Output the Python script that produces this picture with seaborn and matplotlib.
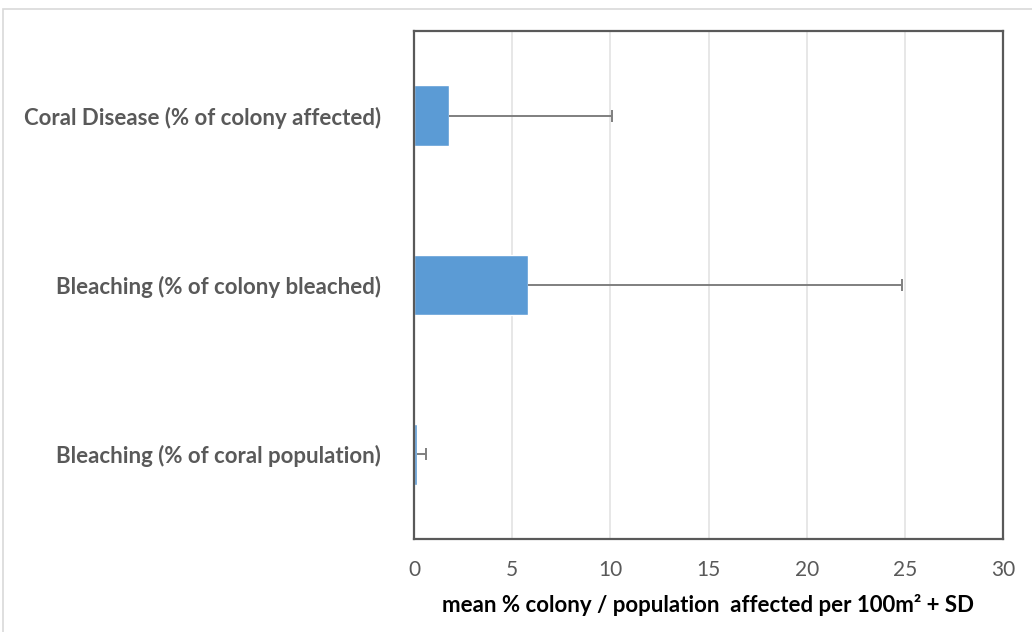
import matplotlib.pyplot as plt
import numpy as np
import pandas as pd
import seaborn as sns

categories = [
    "Coral Disease (% of colony affected)",
    "Bleaching (% of colony bleached)",
    "Bleaching (% of coral population)",
]
means = [1.78, 5.8, 0.17]
sds = [8.3, 19.05, 0.44]
x_ticks = [0, 5, 10, 15, 20, 25, 30]

df = pd.DataFrame({"category": categories, "mean": means, "sd": sds})

sns.set_theme(style="white")
plt.rcParams["font.family"] = ["Lato", "DejaVu Sans"]

fig = plt.figure(figsize=(10.32, 6.32), dpi=100)
ax = fig.add_axes([414 / 1032, 1 - 539 / 632, 589 / 1032, 508 / 632])

sns.barplot(
    data=df,
    x="mean",
    y="category",
    orient="h",
    color="#5b9bd5",
    saturation=1,
    width=0.36,
    errorbar=None,
    ax=ax,
)

# one-sided (+SD) error bars
eb = ax.errorbar(
    df["mean"],
    np.arange(len(df)),
    xerr=[np.zeros(len(df)), df["sd"]],
    fmt="none",
    ecolor="#7f7f7f",
    elinewidth=1.4,
    capsize=4,
    capthick=1.4,
)
# drop the cap that sits on the bar end
eb.lines[1][0].remove()

ax.set_xlim(0, 30)
ax.set_ylim(len(df) - 0.5, -0.5)
ax.set_xticks(x_ticks)
ax.grid(axis="x", color="#e3e3e3", linewidth=1.2)
ax.set_axisbelow(True)

for spine in ax.spines.values():
    spine.set_color("#595959")
    spine.set_linewidth(1.6)

ax.tick_params(axis="x", labelsize=15, labelcolor="#595959", length=0, pad=15)
ax.tick_params(axis="y", labelsize=16, labelcolor="#595959", length=0, pad=24)
for lbl in ax.get_yticklabels():
    lbl.set_fontweight("bold")

ax.set_ylabel("")
ax.set_xlabel(
    "mean % colony / population  affected per 100m² + SD",
    fontsize=16,
    fontweight="bold",
    color="black",
    labelpad=10,
)

# light frame around the chart area
fig.patches.append(
    plt.Rectangle(
        (3 / 1032, -0.05), 1.1, 1 - 9 / 632 + 0.05,
        transform=fig.transFigure, fill=False, edgecolor="#d9d9d9", linewidth=1.2,
    )
)

fig.savefig("out.png", dpi=100)
